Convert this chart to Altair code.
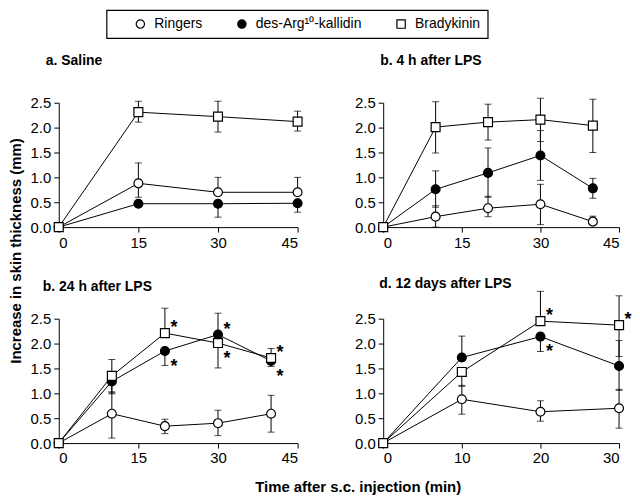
import altair as alt
import pandas as pd

FONT = "Liberation Sans"
SERIES = ["Ringers", "des-Arg¹⁰-kallidin", "Bradykinin"]
FILLS = ["white", "black", "white"]
SHAPES = ["circle", "circle", "square"]

# ---- panel a: Saline ----
a_time = [0, 15, 30, 45]
a_ringers = [0, 0.88, 0.70, 0.70]
a_ringers_hi = [0, 1.29, 1.00, 1.00]
a_ringers_lo = [0, 0.60, 0.70, 0.70]
a_desarg = [0, 0.47, 0.47, 0.48]
a_desarg_hi = [0, 0.47, 0.47, 0.48]
a_desarg_lo = [0, 0.47, 0.20, 0.30]
a_brady = [0, 2.31, 2.22, 2.12]
a_brady_hi = [0, 2.53, 2.53, 2.33]
a_brady_lo = [0, 2.11, 1.91, 1.93]

# ---- panel b: 4 h after LPS ----
b_time = [0, 10, 20, 30, 40]
b_ringers = [0, 0.21, 0.38, 0.46, 0.11]
b_ringers_hi = [0, 0.43, 0.62, 0.86, 0.22]
b_ringers_lo = [0, 0.00, 0.21, 0.05, 0.11]
b_desarg = [0, 0.76, 1.09, 1.44, 0.78]
b_desarg_hi = [0, 1.13, 1.59, 1.94, 0.98]
b_desarg_lo = [0, 0.40, 0.60, 0.94, 0.58]
b_brady = [0, 2.01, 2.11, 2.16, 2.04]
b_brady_hi = [0, 2.52, 2.47, 2.59, 2.57]
b_brady_lo = [0, 1.49, 1.75, 1.72, 1.50]

# ---- panel c: 24 h after LPS ----
c_time = [0, 10, 20, 30, 40]
c_ringers = [0, 0.59, 0.34, 0.40, 0.59]
c_ringers_hi = [0, 1.03, 0.48, 0.66, 0.96]
c_ringers_lo = [0, 0.10, 0.19, 0.15, 0.22]
c_desarg = [0, 1.24, 1.85, 2.18, 1.65]
c_desarg_hi = [0, 1.24, 1.85, 2.61, 1.65]
c_desarg_lo = [0, 0.99, 1.56, 2.18, 1.54]
c_brady = [0, 1.35, 2.21, 2.01, 1.71]
c_brady_hi = [0, 1.68, 2.71, 2.01, 1.90]
c_brady_lo = [0, 1.01, 2.21, 1.51, 1.71]
c_star_series = ["Bradykinin", "des-Arg¹⁰-kallidin", "des-Arg¹⁰-kallidin", "Bradykinin", "Bradykinin", "des-Arg¹⁰-kallidin"]
c_star_time = [20, 20, 30, 30, 40, 40]
c_star_side = ["up", "down", "up", "down", "up", "down"]

# ---- panel d: 12 days after LPS ----
d_time = [0, 10, 20, 30]
d_ringers = [0, 0.88, 0.63, 0.70]
d_ringers_hi = [0, 1.16, 0.85, 1.08]
d_ringers_lo = [0, 0.58, 0.44, 0.30]
d_desarg = [0, 1.72, 2.14, 1.55]
d_desarg_hi = [0, 2.15, 2.14, 2.06]
d_desarg_lo = [0, 1.72, 1.84, 1.06]
d_brady = [0, 1.43, 2.45, 2.37]
d_brady_hi = [0, 1.43, 3.05, 2.96]
d_brady_lo = [0, 1.14, 2.45, 1.74]
d_star_series = ["Bradykinin", "des-Arg¹⁰-kallidin", "Bradykinin"]
d_star_time = [20, 20, 30]
d_star_side = ["up", "down", "up"]

Y_TICKS = [0, 0.5, 1.0, 1.5, 2.0, 2.5]


def long_df(time, groups):
    rows = []
    for name, (mean, hi, lo) in zip(SERIES, groups):
        for t, m, h, l in zip(time, mean, hi, lo):
            rows.append({"series": name, "t": t, "y": m, "hi": h, "lo": l})
    return pd.DataFrame(rows)


def star_df(df, series, times, sides):
    rows = []
    for s, t, side in zip(series, times, sides):
        yv = df[(df.series == s) & (df.t == t)].y.iloc[0]
        rows.append({"t": t, "y": yv, "side": side})
    return pd.DataFrame(rows)


legend = alt.Legend(
    title=None, orient="none", legendX=48, legendY=-93, direction="horizontal",
    columns=3, symbolOffset=20, labelOffset=7, columnPadding=12,
    symbolStrokeColor="black", symbolStrokeWidth=1.2,
)


def panel(df, stars, title, tdx, toff, xmax, xticks, width):
    xs = alt.Scale(domain=[0, xmax], nice=False, zero=False)
    ys = alt.Scale(domain=[0, 2.5], nice=False)
    xax = alt.Axis(values=xticks, title=None, format="d")
    yax = alt.Axis(values=Y_TICKS, format=".1f", title=None, labelOverlap=False, labelFlush=False)
    X = lambda f: alt.X(f, scale=xs, axis=xax)
    Y = lambda f: alt.Y(f, scale=ys, axis=yax)
    base = alt.Chart(df)
    lines = base.mark_line(color="black", strokeWidth=1).encode(
        x=X("t:Q"), y=Y("y:Q"), detail="series:N")
    up = df[df.hi > df.y]
    dn = df[df.lo < df.y]
    layers = [lines]
    for sub, col in ((up, "hi"), (dn, "lo")):
        if len(sub):
            layers.append(alt.Chart(sub).mark_rule(color="black", strokeWidth=1).encode(
                x=X("t:Q"), y=Y("y:Q"), y2=f"{col}:Q"))
            layers.append(alt.Chart(sub).mark_tick(color="black", orient="horizontal",
                                                   size=7, thickness=1).encode(
                x=X("t:Q"), y=Y(f"{col}:Q")))
    pts = base.mark_point(filled=True, opacity=1, strokeWidth=1.2, size=80).encode(
        x=X("t:Q"), y=Y("y:Q"),
        shape=alt.Shape("series:N", scale=alt.Scale(domain=SERIES, range=SHAPES), legend=legend),
        fill=alt.Fill("series:N", scale=alt.Scale(domain=SERIES, range=FILLS), legend=legend),
        stroke=alt.Stroke("series:N", scale=alt.Scale(domain=SERIES, range=["black", "black", "black"]),
                          legend=legend),
    )
    layers.append(pts)
    if stars is not None:
        for side, dy in (("up", 0), ("down", 21)):
            sd = stars[stars.side == side]
            if len(sd):
                layers.append(alt.Chart(sd).mark_text(
                    text="*", dx=9, dy=dy, fontSize=18, fontWeight="bold", font=FONT,
                    baseline="alphabetic", color="black").encode(x=X("t:Q"), y=Y("y:Q")))
    return alt.layer(*layers).properties(
        width=width, height=125,
        title=alt.TitleParams(title, anchor="start", frame="group", dx=tdx, offset=toff,
                              fontSize=14, fontWeight="bold", font=FONT, color="black"),
    )


dfa = long_df(a_time, [(a_ringers, a_ringers_hi, a_ringers_lo), (a_desarg, a_desarg_hi, a_desarg_lo), (a_brady, a_brady_hi, a_brady_lo)])
dfb = long_df(b_time, [(b_ringers, b_ringers_hi, b_ringers_lo), (b_desarg, b_desarg_hi, b_desarg_lo), (b_brady, b_brady_hi, b_brady_lo)])
dfc = long_df(c_time, [(c_ringers, c_ringers_hi, c_ringers_lo), (c_desarg, c_desarg_hi, c_desarg_lo), (c_brady, c_brady_hi, c_brady_lo)])
dfd = long_df(d_time, [(d_ringers, d_ringers_hi, d_ringers_lo), (d_desarg, d_desarg_hi, d_desarg_lo), (d_brady, d_brady_hi, d_brady_lo)])

pa = panel(dfa, None, "a. Saline", -13, 28, 45, [0, 15, 30, 45], 240)
pb = panel(dfb, None, "b. 4 h after LPS", -3, 28, 45, [0, 15, 30, 45], 237)
pc = panel(dfc, star_df(dfc, c_star_series, c_star_time, c_star_side), "b. 24 h after LPS", -16, 14, 45, [0, 15, 30, 45], 240)
pd_ = panel(dfd, star_df(dfd, d_star_series, d_star_time, d_star_side), "d. 12 days after LPS", -4, 0, 30, [0, 10, 20, 30], 237)

grid = alt.concat(
    pa, pb, pc, pd_, columns=2, spacing={"row": 27, "column": 50},
    title=alt.TitleParams("Increase in skin thickness (mm)", orient="left",
                          anchor="middle", fontSize=15, fontWeight="bold",
                          font=FONT, color="black", offset=6, dx=9),
).resolve_scale(x="independent", y="independent")

chart = alt.vconcat(grid, title=alt.TitleParams("Time after s.c. injection (min)", orient="bottom",
                                                 anchor="middle", fontSize=15, fontWeight="bold",
                                                 font=FONT, color="black", offset=14, dx=38)
                    ).resolve_scale(x="independent", y="independent").properties(
    padding={"left": 1, "top": 0, "right": 0, "bottom": 0}
).configure_axis(
    labelFont=FONT, labelFontSize=15, labelColor="black", domainColor="black",
    tickColor="black", tickSize=5, grid=False, labelPadding=3, domainWidth=1, tickWidth=1,
    labelOverlap=False,
).configure_view(stroke=None).configure_legend(
    labelFont=FONT, labelFontSize=14, labelColor="black", strokeColor="black",
    strokeWidth=1.2, padding=7, symbolStrokeColor="black", symbolStrokeWidth=1.2,
    symbolSize=70, cornerRadius=0, fillColor="white",
)

chart.save("out.html", embed_options={"renderer": "svg", "actions": False})
